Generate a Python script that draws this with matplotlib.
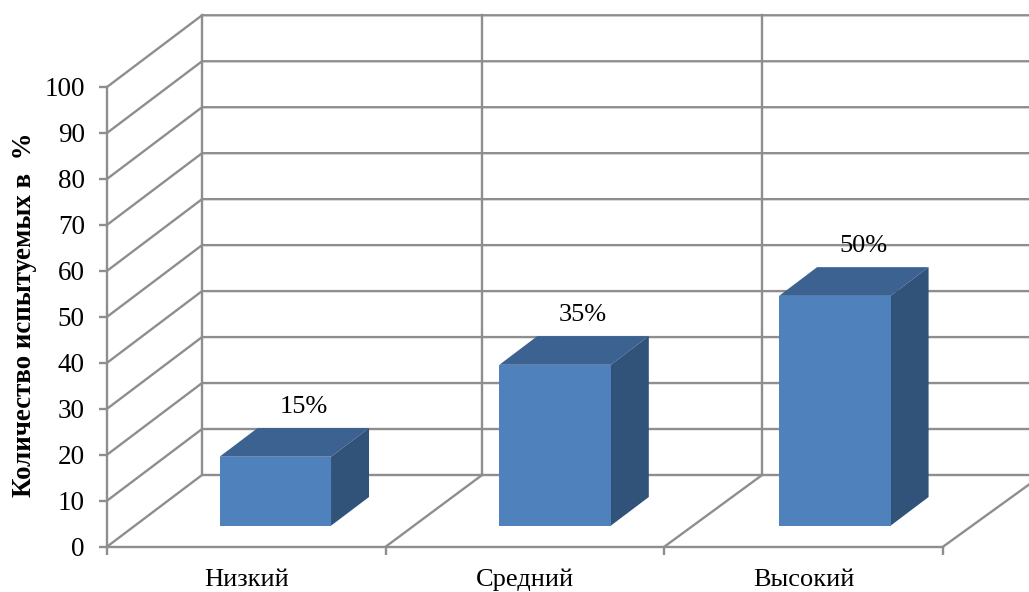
import matplotlib
matplotlib.use("Agg")
import matplotlib.pyplot as plt
from matplotlib.patches import Polygon

plt.rcParams['font.family'] = ['Liberation Serif', 'DejaVu Serif']

categories = ['Низкий', 'Средний', 'Высокий']
values = [15, 35, 50]
value_labels = ['15%', '35%', '50%']
yticks = list(range(0, 101, 10))
ylabel = 'Количество испытуемых в  %'

GREY = '#8e8e8e'
FRONT = '#4f81bd'
TOP = '#3c6292'
SIDE = '#325379'
LW = 1.7

# Oblique projection of the depth axis, in data units (full floor depth)
DEPTH_X = 0.341
DEPTH_Y = 15.6
BACK_STEP = 1.005  # category spacing on the back wall
BAR_STEP = 1.004
BAR_WIDTH = 0.4
BAR_START = 0.293  # where the bar begins along the floor depth
BAR_DEPTH = 0.40


def project(x, y, d):
    # d = 0 is the front edge of the floor, d = 1 the back wall
    return (x + d * DEPTH_X, y + d * DEPTH_Y)


W, H = 1029, 592
fig = plt.figure(figsize=(W / 100, H / 100), dpi=100)
ax = fig.add_axes([107 / W, 1 - 546.7 / H, 836 / W, 459.7 / H])
ax.set_xlim(0, 3)
ax.set_ylim(0, 100)

for name in ['top', 'right']:
    ax.spines[name].set_visible(False)
for name in ['left', 'bottom']:
    ax.spines[name].set_color(GREY)
    ax.spines[name].set_linewidth(LW)

# Back wall and side wall grid
for v in yticks:
    x0, y0 = project(0, v, 0)
    x1, y1 = project(0, v, 1)
    x2, y2 = project(3, v, 1)
    ax.plot([x0, x1, x2], [y0, y1, y2], color=GREY, lw=LW, clip_on=False, zorder=1)
for i in range(3):
    x0, y0 = project(i * BACK_STEP, 0, 1)
    x1, y1 = project(i * BACK_STEP, 100, 1)
    ax.plot([x0, x1], [y0, y1], color=GREY, lw=LW, clip_on=False, zorder=1)

# Floor lines between categories
for i in range(1, 4):
    x0, y0 = project(i, 0, 0)
    x1, y1 = project(i * BACK_STEP, 0, 1)
    ax.plot([x0, x1], [y0, y1], color=GREY, lw=LW, clip_on=False, zorder=1)

# Bars: front face from ax.bar, top and side faces as polygons
for i, v in enumerate(values):
    left = 0.304 + i * BAR_STEP
    right = left + BAR_WIDTH
    base = project(left, 0, BAR_START)
    ax.bar(base[0], v, width=BAR_WIDTH, bottom=base[1], align='edge',
           color=FRONT, linewidth=0, zorder=4, clip_on=False)
    d0, d1 = BAR_START, BAR_START + BAR_DEPTH
    top = [project(left, v, d0), project(right, v, d0),
           project(right, v, d1), project(left, v, d1)]
    side = [project(right, 0, d0), project(right, v, d0),
            project(right, v, d1), project(right, 0, d1)]
    ax.add_patch(Polygon(top, closed=True, facecolor=TOP, linewidth=0, zorder=3, clip_on=False))
    ax.add_patch(Polygon(side, closed=True, facecolor=SIDE, linewidth=0, zorder=3, clip_on=False))
    ax.text(i * 1.004 + 0.5 + 0.205, v + 15.4, value_labels[i], fontsize=19, color='black',
            ha='center', va='center', zorder=5)

# Ticks on the front edges
ax.set_yticks(yticks)
ax.set_yticklabels([str(v) for v in yticks], fontsize=19.5, color='black')
ax.tick_params(axis='y', length=6, width=LW, color=GREY, pad=10)
ax.set_xticks([0, 1, 2, 3])
ax.set_xticklabels([])
ax.tick_params(axis='x', which='major', length=6, width=LW, color=GREY)
ax.set_xticks([0.5, 1.5, 2.5], minor=True)
ax.set_xticklabels(categories, minor=True, fontsize=19, color='black')
ax.tick_params(axis='x', which='minor', length=0, pad=16)

fig.text(25 / W, 1 - 315 / H, ylabel, rotation=90, fontsize=19.4, fontweight='bold',
         ha='center', va='center', color='black')

fig.savefig('out.png', dpi=100)
